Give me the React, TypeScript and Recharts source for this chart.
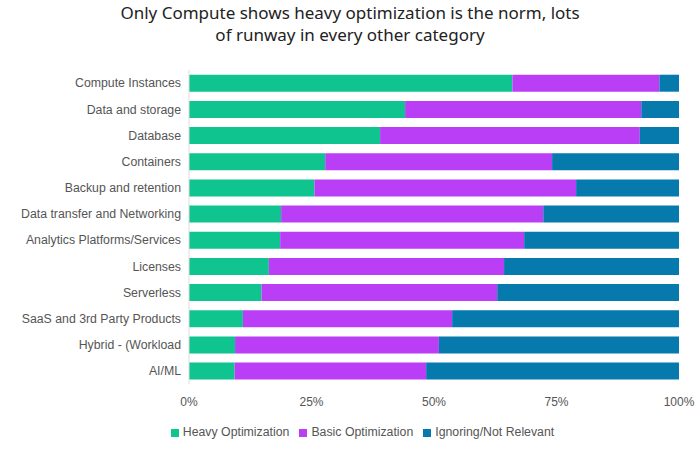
import React from 'react';
import { BarChart, Bar, XAxis, YAxis, Legend } from 'recharts';

// share of respondents per category (percent)
const categories = [
  'Compute Instances',
  'Data and storage',
  'Database',
  'Containers',
  'Backup and retention',
  'Data transfer and Networking',
  'Analytics Platforms/Services',
  'Licenses',
  'Serverless',
  'SaaS and 3rd Party Products',
  'Hybrid - (Workload',
  'AI/ML',
];
const heavy = [66, 44.1, 39, 27.8, 25.6, 18.8, 18.6, 16.3, 14.8, 11, 9.4, 9.3];
const basic = [30, 48.2, 53, 46.3, 53.4, 53.5, 49.8, 48, 48.1, 42.7, 41.6, 39.1];
const ignoring = [4, 7.7, 8, 25.9, 21, 27.7, 31.6, 35.7, 37.1, 46.3, 49, 51.6];
const xTicks = [0, 25, 50, 75, 100];

const data = categories.map((name, i) => ({
  name,
  heavy: heavy[i],
  basic: basic[i],
  ignoring: ignoring[i],
}));

const FONT = '"Liberation Sans", Arial, sans-serif';
const tickFont = { fontFamily: FONT, fontSize: 12, fill: '#555' };

// plain one-line category label (the default tick wraps long names)
const CategoryTick = (props: any) => {
  const { x, y, payload } = props;
  return (
    <text x={x} y={y} dy="0.355em" textAnchor="end" fontFamily={FONT} fontSize={12.3} fill="#555">
      {payload.value}
    </text>
  );
};

export default function App() {
  return (
    <div style={{ position: 'absolute', left: 0, top: 0, width: 700, height: 457, background: '#fff' }}>
      <div
        style={{
          position: 'absolute',
          top: 2,
          left: 0,
          width: 700,
          textAlign: 'center',
          fontFamily: '"Noto Sans", sans-serif',
          fontSize: 17,
          lineHeight: '22px',
          color: '#222',
        }}
      >
        Only Compute shows heavy optimization is the norm, lots
        <br />
        of runway in every other category
      </div>
      <BarChart
        width={700}
        height={457}
        data={data}
        layout="vertical"
        margin={{ top: 70, right: 21, bottom: 18, left: 0 }}
        barCategoryGap="18%"
      >
        <XAxis
          type="number"
          domain={[0, 100]}
          ticks={xTicks}
          tickFormatter={(v) => `${v}%`}
          axisLine={false}
          tickLine={false}
          tickMargin={7}
          height={41}
          tick={tickFont}
        />
        <YAxis
          type="category"
          dataKey="name"
          width={189}
          axisLine={{ stroke: '#ddd' }}
          tickLine={false}
          tick={<CategoryTick />}
          interval={0}
        />
        <Legend
          verticalAlign="bottom"
          iconType="square"
          iconSize={8}
          itemSorter={() => 0}
          wrapperStyle={{ fontFamily: FONT, fontSize: 12.3, paddingLeft: 28 }}
          formatter={(value) => <span style={{ color: '#555' }}>{value}</span>}
        />
        <Bar dataKey="heavy" name="Heavy Optimization" stackId="a" fill="#10C48F" isAnimationActive={false} />
        <Bar dataKey="basic" name="Basic Optimization" stackId="a" fill="#BB3EF7" isAnimationActive={false} />
        <Bar dataKey="ignoring" name="Ignoring/Not Relevant" stackId="a" fill="#0679AD" isAnimationActive={false} />
      </BarChart>
    </div>
  );
}
